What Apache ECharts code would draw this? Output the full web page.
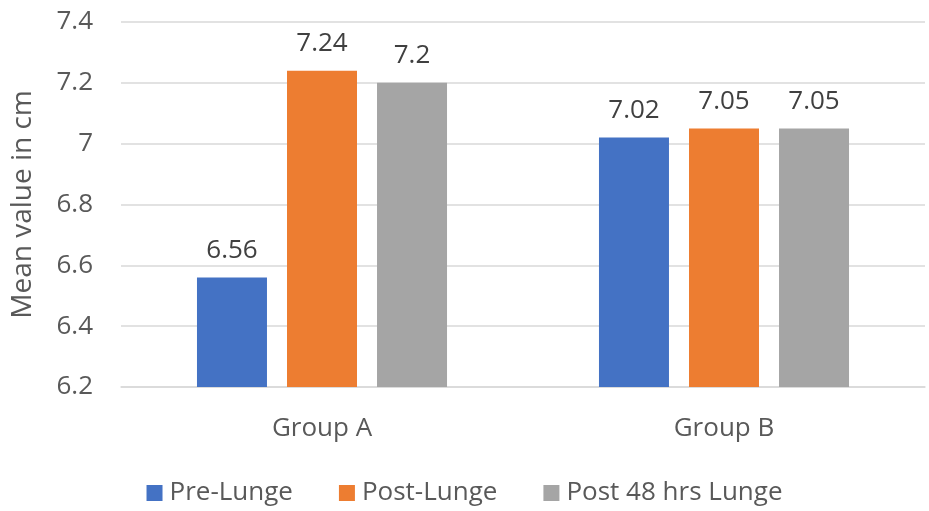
<!DOCTYPE html>
<html>
<head>
<meta charset="utf-8">
<script src="https://cdn.jsdelivr.net/npm/echarts@6/dist/echarts.min.js"></script>
<style>
html,body{margin:0;padding:0;background:#fff;}
#c{width:929px;height:511px;}
</style>
</head>
<body>
<div id="c"></div>
<script>
var categories = ['Group A', 'Group B'];
var seriesNames = ['Pre-Lunge', 'Post-Lunge', 'Post 48 hrs Lunge'];
var preLunge = [6.56, 7.02];
var postLunge = [7.24, 7.05];
var post48 = [7.2, 7.05];
var yTicks = [6.2, 6.4, 6.6, 6.8, 7, 7.2, 7.4];
var colors = ['#4472C4', '#ED7D31', '#A5A5A5'];
var FONT = '"Open Sans"';

var chart = echarts.init(document.getElementById('c'), null, {renderer: 'canvas'});
function mk(name, data, color) {
  return {
    name: name, type: 'bar', data: data, barWidth: 70, barGap: '28.6%',
    itemStyle: {color: color},
    label: {show: true, position: 'top', distance: 14, color: '#404040',
      fontSize: 26, fontFamily: FONT},
    emphasis: {disabled: true}
  };
}
chart.setOption({
  animation: false,
  backgroundColor: '#fff',
  textStyle: {fontFamily: FONT},
  grid: {left: 121, right: 4, top: 22, bottom: 124, containLabel: false},
  legend: {
    bottom: 0, left: 'center', itemWidth: 16, itemHeight: 16, itemGap: 46,
    icon: 'rect',
    textStyle: {fontSize: 26, color: '#595959', fontFamily: FONT, padding: [0, 0, 0, 2]},
    data: seriesNames
  },
  xAxis: {
    type: 'category', data: categories,
    axisLine: {lineStyle: {color: '#D9D9D9', width: 1.5}},
    axisTick: {show: false},
    axisLabel: {fontSize: 26, color: '#595959', margin: 29, fontFamily: FONT}
  },
  yAxis: {
    type: 'value', min: yTicks[0], max: yTicks[yTicks.length - 1], interval: 0.2,
    name: 'Mean value in cm', nameLocation: 'middle', nameGap: 84, nameRotate: 90,
    nameTextStyle: {fontSize: 28, color: '#595959', fontFamily: FONT},
    axisLine: {show: false}, axisTick: {show: false},
    axisLabel: {fontSize: 26, color: '#595959', margin: 28, fontFamily: FONT,
      formatter: function (v) { return String(Math.round(v * 10) / 10); }},
    splitLine: {lineStyle: {color: '#D9D9D9', width: 1.5}}
  },
  series: [
    mk(seriesNames[0], preLunge, colors[0]),
    mk(seriesNames[1], postLunge, colors[1]),
    mk(seriesNames[2], post48, colors[2])
  ]
});
</script>
</body>
</html>
